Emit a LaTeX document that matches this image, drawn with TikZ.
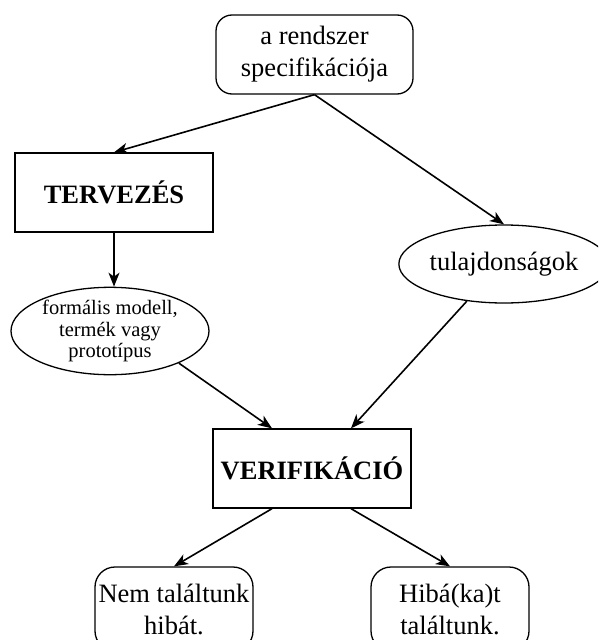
\documentclass[tikz,border=0pt]{standalone}
\usepackage{fontspec}
\setmainfont{Liberation Serif}
\usetikzlibrary{arrows.meta,shapes.geometric,calc}
\begin{document}
\begin{tikzpicture}[x=1pt,y=-1pt,
  every node/.style={line width=1.3pt, inner sep=0pt},
  big/.style={font=\fontsize{26.5}{32}\selectfont, align=center},
  rbox/.style={draw, rounded corners=16pt, big},
  sbox/.style={draw, big, font=\fontsize{26.5}{32}\selectfont\bfseries},
  ell/.style={draw, ellipse, align=center},
  arr/.style={line width=1.6pt, -{Stealth[length=14pt,width=11pt,inset=4pt]}}]
\useasboundingbox (0,0) rectangle (598,640);
\clip (0,0) rectangle (598,640);
\node[rbox, minimum width=197pt, minimum height=79pt] (spec) at (314.5,54.5) {a rendszer\\specifikációja};
\node[sbox, minimum width=198pt, minimum height=79pt] (terv) at (114,192.5) {TERVEZÉS};
\node[ell, big, minimum width=188pt, minimum height=78pt] (tul) at (504,264) {tulajdonságok};
\node[ell, font=\fontsize{20.5}{21.5}\selectfont, minimum width=198pt, minimum height=78pt] (form) at (110,331) {formális modell,\\termék vagy\\prototípus};
\node[sbox, minimum width=198pt, minimum height=79pt] (verif) at (312,468.5) {VERIFIKÁCIÓ};
\node[rbox, rounded corners=20pt, minimum width=158pt, minimum height=84pt] (nem) at (174,609) {Nem találtunk\\hibát.};
\node[rbox, rounded corners=20pt, minimum width=158pt, minimum height=84pt] (hiba) at (450,609) {Hibá(ka)t\\találtunk.};
\draw[arr] (spec.south) -- (terv.north);
\draw[arr] (spec.south) -- (tul.north);
\draw[arr] (terv.south) -- (terv.south |- form.north);
\draw[arr] (form.-25) -- ($(verif.north)+(-40,0)$);
\draw[arr] (tul.-135) -- ($(verif.north)+(39,0)$);
\draw[arr] ($(verif.south)+(-40,0)$) -- (nem.north);
\draw[arr] ($(verif.south)+(39,0)$) -- (hiba.north);
\end{tikzpicture}
\end{document}
